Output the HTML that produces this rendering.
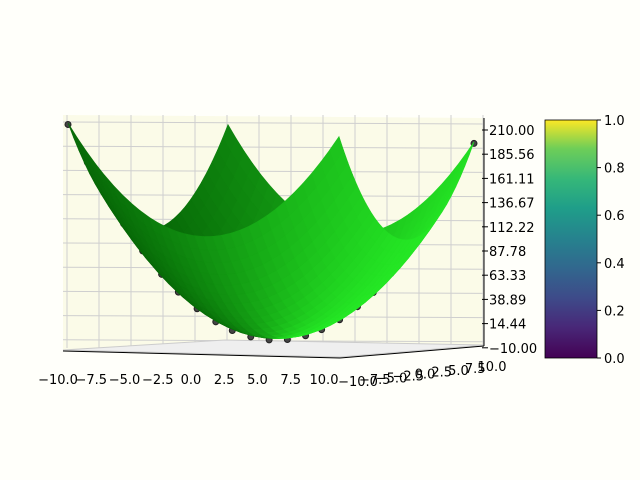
<!DOCTYPE html>
<html><head><meta charset="utf-8"><style>
body{margin:0;background:#fff}
svg{display:block;font-family:"DejaVu Sans","Liberation Sans",sans-serif}
</style></head><body>
<svg id="c" width="640" height="480" viewBox="0 0 640 480">
<defs><linearGradient id="vir" x1="0" y1="1" x2="0" y2="0">
<stop offset="0" stop-color="#440154"/><stop offset="0.13" stop-color="#482878"/><stop offset="0.25" stop-color="#3e4a89"/><stop offset="0.38" stop-color="#31688e"/><stop offset="0.5" stop-color="#26828e"/><stop offset="0.63" stop-color="#1f9e89"/><stop offset="0.75" stop-color="#35b779"/><stop offset="0.88" stop-color="#6ece58"/><stop offset="1" stop-color="#fde725"/></linearGradient></defs>
<rect width="640" height="480" fill="#fffffa"/>
<g id="panes"></g>
<g id="dots"></g>
<g id="surf"></g>
<g id="axes"></g>
<g>
<rect x="545" y="120" width="52" height="238" fill="url(#vir)" stroke="#000" stroke-width="0.8"/>
<g id="cbt" font-size="13"></g></g>
</svg>
<script>
const xTicks=[-10,-7.5,-5,-2.5,0,2.5,5,7.5,10];
const yTicks=[-10,-7.5,-5,-2.5,0,2.5,5,7.5,10];
const zTicks=["210.00","185.56","161.11","136.67","112.22","87.78","63.33","38.89","14.44","-10.00"];
const cbTicks=["1.0","0.8","0.6","0.4","0.2","0.0"];
const dotT=[-10,-9.1,-8.2,-7.4,-6.5,-5.6,-4.8,-3.9,-3.0,-2.2,-1.3,-0.4,0.5,1.4,2.2,3.1,4.0,4.8,5.7,6.6,7.4,8.3,9.2,10];
const NS="http://www.w3.org/2000/svg";
function bil(a,b,c,d,x,y){const u=(x+10)/20,v=(y+10)/20;return a*(1-u)*(1-v)+b*u*(1-v)+c*u*v+d*(1-u)*v;}
function P(x,y,z){const sx=bil(68,339,474,228,x,y);const fl=bil(351,357,345,343,x,y);const k=bil(1.086,1.05,0.967,1.04,x,y);return [sx,fl-(z+10)*k];}
function el(t,a,p){const e=document.createElementNS(NS,t);for(const k in a)e.setAttribute(k,a[k]);(p||document.getElementById('c')).appendChild(e);return e;}
const pn=document.getElementById('panes');
el('polygon',{points:"63,115 484,118 484,345 63,350",fill:"#fbfbe8",stroke:"none"},pn);
for(let i=0;i<=13;i++){const x=67+i*32;const l=el('line',{x1:x,y1:115,x2:x,y2:348,stroke:"#cfcfcf","stroke-width":1},pn);}
for(let i=0;i<10;i++){const y=122+i*24.2;const l=el('line',{x1:63,y1:y,x2:484,y2:y+2,stroke:"#cfcfcf","stroke-width":1},pn);}
el('polygon',{points:"63,350 340,357 484,345 225,340",fill:"#efefef",stroke:"#ccc"},pn);
const dg=document.getElementById('dots');
dotT.forEach(t=>{const p=P(t,t,2*t*t);const c=el('circle',{cx:p[0],cy:p[1]+1.5,r:3,fill:"#444",stroke:"#222"},dg);});
const sg=document.getElementById('surf');const N=30,quads=[];
const f=(x,y)=>x*x+y*y;
for(let i=0;i<N;i++)for(let j=0;j<N;j++){const x0=-10+20*i/N,x1=-10+20*(i+1)/N,y0=-10+20*j/N,y1=-10+20*(j+1)/N;
const xm=(x0+x1)/2,ym=(y0+y1)/2;let n=[-2*xm,-2*ym,1];const L=Math.hypot(...n);n=n.map(v=>v/L);
const l=[-0.7,-0.2,0.5];let I=n[0]*l[0]+n[1]*l[1]+n[2]*l[2];I=Math.max(0,Math.min(1,0.45+0.6*I));
const pts=[P(x0,y0,f(x0,y0)),P(x1,y0,f(x1,y0)),P(x1,y1,f(x1,y1)),P(x0,y1,f(x0,y1))];
quads.push({d:ym,pts,col:`rgb(${Math.round(5+35*I)},${Math.round(95+150*I)},${Math.round(5+35*I)})`});}
quads.sort((a,b)=>b.d-a.d);
quads.forEach(q=>{const p=el('polygon',{points:q.pts.map(p=>p.join(',')).join(' '),fill:q.col,stroke:q.col,"stroke-width":0.6},sg);});
const ag=document.getElementById('axes');
el('line',{x1:63,y1:351,x2:340,y2:358,stroke:"#000","stroke-width":1},ag);
el('line',{x1:340,y1:358,x2:484,y2:346,stroke:"#000","stroke-width":1},ag);
el('line',{x1:484,y1:118,x2:484,y2:346,stroke:"#000","stroke-width":1},ag);
xTicks.forEach((v,i)=>{const x=58+(v+10)/20*266;const t=el('text',{x:x,y:384,"font-size":13,"text-anchor":"middle"},ag);t.textContent=v.toFixed(1).replace('-','\u2212');});
yTicks.forEach((v,i)=>{const u=(v+10)/20;const x=358+u*134;const y=386-u*15;const t=el('text',{x:x,y:y,"font-size":13,"text-anchor":"middle"},ag);t.textContent=v.toFixed(1).replace('-','\u2212');});
zTicks.forEach((v,i)=>{const y=130+i*24.2;el('line',{x1:482,y1:y,x2:488,y2:y,stroke:"#000"},ag);const t=el('text',{x:489,y:y+5,"font-size":13},ag);t.textContent=v.replace('-','\u2212');});
const cg=document.getElementById('cbt');
cbTicks.forEach((v,i)=>{const y=120+i*47.6;el('line',{x1:597,y1:y,x2:601,y2:y,stroke:"#000"},cg);const t=el('text',{x:604,y:y+5},cg);t.textContent=v;});
</script>
</body></html>
